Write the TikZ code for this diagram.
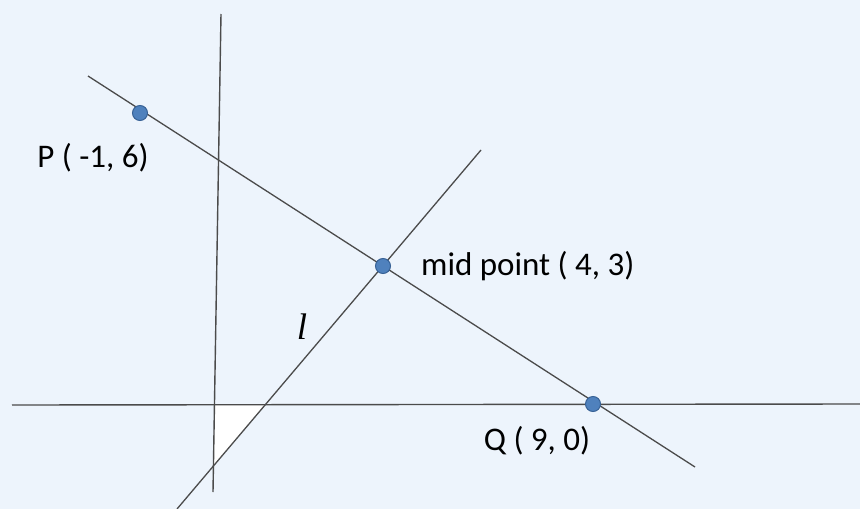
\documentclass[tikz,border=0pt]{standalone}
\usepackage{fontspec}
\setmainfont{Carlito}
\newfontfamily\lineletter{Liberation Serif}
\usetikzlibrary{positioning}
\definecolor{bgBlue}{RGB}{237,244,252}
\definecolor{dotBlue}{RGB}{79,129,189}
\definecolor{dotEdge}{RGB}{56,98,150}
\definecolor{lineGray}{RGB}{75,75,75}
\tikzset{
    % Lines
    axis/.style={lineGray, line width=1.4pt},
    seg/.style={lineGray, line width=1.3pt},
    % Points & Labels
    dot/.style={circle, fill=dotBlue, draw=dotEdge, line width=1pt, minimum size=15pt, inner sep=0pt},
    lbl/.style={font=\fontsize{33}{38}\selectfont, text=black, inner sep=0pt}
}
\begin{document}
\begin{tikzpicture}[x=1pt, y=-1pt]

\fill[bgBlue] (0,0) rectangle (860,509);
\useasboundingbox (0,0) rectangle (860,509);

% axes
\coordinate (ytop) at (221,14);
\coordinate (ybot) at (213,492);
\coordinate (xl) at (12,405);
\coordinate (xr) at (860,404);

% line l and PQ ends
\coordinate (lbot) at (177,509);
\coordinate (ltop) at (481,150);
\coordinate (pqa) at (88,76);
\coordinate (pqb) at (695,467);

% white corner
\coordinate (o) at (214.5,405);
\coordinate (lx) at (264,405);
\coordinate (ly) at (214,465);
\fill[white] (o) -- (lx) -- (ly) -- cycle;

\draw[axis] (ytop) -- (ybot);
\draw[axis] (xl) -- (xr);
\draw[seg] (lbot) -- (ltop);
\draw[seg] (pqa) -- (pqb);

\node[dot] (P) at (140,113) {};
\node[dot] (M) at (383,266) {};
\node[dot] (Q) at (593,404) {};

\node[lbl] (Plbl) at (93,158) {P ( -1, 6)};
\node[lbl, right=30pt of M] (Mlbl) {mid point ( 4, 3)};
\node[lbl] (Qlbl) at (537,441) {Q ( 9, 0)};
\node[inner sep=0pt, font=\lineletter\itshape\fontsize{37}{40}\selectfont] (lname) at (302,327) {l};

\end{tikzpicture}
\end{document}
